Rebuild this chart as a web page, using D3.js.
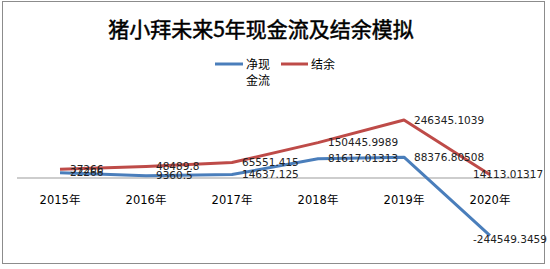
<!DOCTYPE html>
<html>
<head>
<meta charset="utf-8">
<script src="https://cdn.jsdelivr.net/npm/d3@7"></script>
<style>
  body { margin: 0; background: #fff; }
  text { font-family: "DejaVu Sans", "Noto Sans CJK SC", sans-serif; fill: #000; }
</style>
</head>
<body>
<svg width="550" height="269"></svg>
<script>
const years = ["2015年", "2016年", "2017年", "2018年", "2019年", "2020年"];
const netCash = [22266, 9360.5, 14637.125, 81617.01313, 88376.80508, -244549.3459];
const balance = [37266, 48489.8, 65551.415, 150445.9989, 246345.1039, 14113.01317];

const series = [
  { name: "净现金流", values: netCash, color: "#4a7ebb" },
  { name: "结余", values: balance, color: "#be4b48" },
];

const svg = d3.select("svg");

// chart border
svg.append("rect")
  .attr("x", 2.5).attr("y", 1.5)
  .attr("width", 542).attr("height", 262)
  .attr("fill", "#fff")
  .attr("stroke", "#8c8c8c")
  .attr("stroke-width", 1);

svg.append("text")
  .attr("x", 261).attr("y", 37)
  .attr("text-anchor", "middle")
  .style("font-family", "'Noto Sans CJK SC', sans-serif")
  .style("font-size", "21px")
  .style("stroke", "#000")
  .style("stroke-width", 0.5)
  .text("猪小拜未来5年现金流及结余模拟");

const x = d3.scaleBand().domain(years).range([17, 533]);
const y = d3.scaleLinear().domain([-300000, 300000]).range([248.6, 107.4]);
const cx = d => x(d) + x.bandwidth() / 2;

// category axis at zero
svg.append("line")
  .attr("x1", 17).attr("x2", 533)
  .attr("y1", y(0)).attr("y2", y(0))
  .attr("stroke", "#bdbdbd")
  .attr("stroke-width", 1.5);

svg.selectAll(".cat")
  .data(years)
  .enter().append("text")
  .attr("class", "cat")
  .attr("x", d => cx(d))
  .attr("y", 204)
  .attr("text-anchor", "middle")
  .style("font-size", "11.5px")
  .text(d => d);

const line = d3.line()
  .x((d, i) => cx(years[i]))
  .y(d => y(d));

series.forEach(s => {
  svg.append("path")
    .datum(s.values)
    .attr("d", line)
    .attr("fill", "none")
    .attr("stroke", s.color)
    .attr("stroke-width", 3)
    .attr("stroke-linejoin", "round");
});

// data labels (overlapping near 2015-2016 as in the original)
series.forEach(s => {
  svg.selectAll(null)
    .data(s.values)
    .enter().append("text")
    .attr("x", (d, i) => cx(years[i]) + (i === years.length - 1 ? -17 : 10))
    .attr("y", (d, i) => y(d) + (i === years.length - 1 && d < 0 ? 4 : 0))
    .attr("dy", "0.35em")
    .style("font-size", "10.5px")
    .style("fill", "#222")
    .text(d => String(d));
});

// legend
const legend = svg.append("g");
legend.append("line")
  .attr("x1", 215).attr("x2", 243).attr("y1", 64).attr("y2", 64)
  .attr("stroke", series[0].color).attr("stroke-width", 3);
legend.append("text").attr("x", 246).attr("y", 68.5)
  .style("font-size", "12px").text("净现");
legend.append("text").attr("x", 246).attr("y", 85)
  .style("font-size", "12px").text("金流");
legend.append("line")
  .attr("x1", 281).attr("x2", 308).attr("y1", 64).attr("y2", 64)
  .attr("stroke", series[1].color).attr("stroke-width", 3);
legend.append("text").attr("x", 311).attr("y", 68.5)
  .style("font-size", "12px").text("结余");
</script>
</body>
</html>
